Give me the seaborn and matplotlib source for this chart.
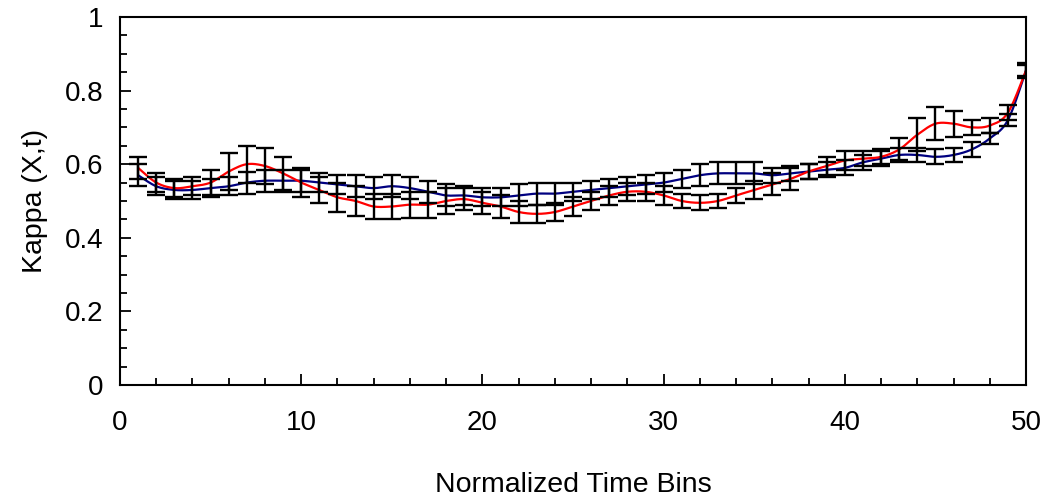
import numpy as np
import pandas as pd
import matplotlib
matplotlib.use('Agg')
import matplotlib.pyplot as plt
from matplotlib.ticker import MultipleLocator, FuncFormatter
import seaborn as sns

# time bins and the two kappa series
bins = list(range(1, 51))

kappa_red = [0.59, 0.55, 0.535, 0.54, 0.55, 0.58, 0.60, 0.595, 0.575, 0.55,
             0.53, 0.51, 0.50, 0.485, 0.485, 0.49, 0.49, 0.50, 0.505, 0.495,
             0.485, 0.47, 0.465, 0.47, 0.485, 0.50, 0.515, 0.525, 0.525, 0.515,
             0.50, 0.495, 0.50, 0.515, 0.53, 0.545, 0.56, 0.58, 0.595, 0.61,
             0.615, 0.62, 0.64, 0.68, 0.71, 0.71, 0.70, 0.705, 0.74, 0.855]

kappa_blue = [0.57, 0.54, 0.53, 0.53, 0.535, 0.54, 0.55, 0.555, 0.555, 0.555,
              0.55, 0.545, 0.54, 0.535, 0.54, 0.535, 0.525, 0.515, 0.515, 0.51,
              0.51, 0.515, 0.52, 0.52, 0.525, 0.53, 0.535, 0.54, 0.545, 0.55,
              0.56, 0.57, 0.575, 0.575, 0.575, 0.57, 0.575, 0.58, 0.585, 0.59,
              0.605, 0.615, 0.625, 0.625, 0.62, 0.625, 0.64, 0.67, 0.72, 0.855]

err_red = [0.03, 0.025, 0.025, 0.025, 0.035, 0.05, 0.05, 0.05, 0.045, 0.04,
           0.035, 0.04, 0.04, 0.035, 0.035, 0.035, 0.035, 0.035, 0.03, 0.03,
           0.03, 0.03, 0.025, 0.025, 0.025, 0.025, 0.025, 0.025, 0.025, 0.025,
           0.02, 0.02, 0.02, 0.02, 0.025, 0.03, 0.03, 0.02, 0.025, 0.025,
           0.02, 0.02, 0.03, 0.045, 0.045, 0.035, 0.02, 0.02, 0.02, 0.02]

err_blue = [0.03, 0.025, 0.025, 0.025, 0.025, 0.025, 0.03, 0.03, 0.03, 0.03,
            0.025, 0.025, 0.03, 0.03, 0.03, 0.03, 0.03, 0.03, 0.025, 0.025,
            0.025, 0.03, 0.03, 0.03, 0.025, 0.025, 0.025, 0.025, 0.025, 0.025,
            0.025, 0.03, 0.03, 0.03, 0.03, 0.02, 0.02, 0.02, 0.02, 0.02,
            0.02, 0.02, 0.02, 0.02, 0.02, 0.02, 0.02, 0.015, 0.015, 0.015]


def smooth(x, y, n=20):
    # excel-like smoothed line (bezier through the points)
    x = np.asarray(x, float)
    y = np.asarray(y, float)
    px = np.concatenate([[x[0]], x, [x[-1]]])
    py = np.concatenate([[y[0]], y, [y[-1]]])
    t = np.linspace(0, 1, n, endpoint=False)
    xs, ys = [], []
    for i in range(1, len(px) - 2):
        p0 = np.array([px[i], py[i]])
        p3 = np.array([px[i + 1], py[i + 1]])
        p1 = p0 + (np.array([px[i + 1], py[i + 1]]) - np.array([px[i - 1], py[i - 1]])) / 6
        p2 = p3 - (np.array([px[i + 2], py[i + 2]]) - np.array([px[i], py[i]])) / 6
        b = ((1 - t) ** 3)[:, None] * p0 + (3 * (1 - t) ** 2 * t)[:, None] * p1 \
            + (3 * (1 - t) * t ** 2)[:, None] * p2 + (t ** 3)[:, None] * p3
        xs.extend(b[:, 0])
        ys.extend(b[:, 1])
    xs.append(x[-1])
    ys.append(y[-1])
    return xs, ys


sns.set_style('ticks')
plt.rcParams['font.family'] = ['Liberation Sans', 'DejaVu Sans']
plt.rcParams['text.color'] = 'black'
plt.rcParams['axes.labelcolor'] = 'black'
plt.rcParams['xtick.color'] = 'black'
plt.rcParams['ytick.color'] = 'black'

fig = plt.figure(figsize=(10.47, 4.99), dpi=100)
ax = fig.add_axes([0.1146, 0.2285, 0.8654, 0.7375])

bx, by = smooth(bins, kappa_blue)
rx, ry = smooth(bins, kappa_red)
sns.lineplot(x=bx, y=by, ax=ax, color='#000080', linewidth=1.6, sort=False, zorder=2)
sns.lineplot(x=rx, y=ry, ax=ax, color='#ff0000', linewidth=1.6, sort=False, zorder=2)

ax.errorbar(bins, kappa_blue, yerr=err_blue, fmt='none', ecolor='black',
            elinewidth=1.7, capsize=6.5, capthick=1.7, zorder=3)
ax.errorbar(bins, kappa_red, yerr=err_red, fmt='none', ecolor='black',
            elinewidth=1.7, capsize=6.5, capthick=1.7, zorder=3)

ax.set_xlim(0, 50)
ax.set_ylim(0, 1)
ax.xaxis.set_major_locator(MultipleLocator(10))
ax.xaxis.set_minor_locator(MultipleLocator(2))
ax.yaxis.set_major_locator(MultipleLocator(0.2))
ax.yaxis.set_minor_locator(MultipleLocator(0.05))
ax.yaxis.set_major_formatter(FuncFormatter(lambda v, p: '%g' % round(v, 2)))

ax.tick_params(which='both', direction='in', labelsize=20, width=1.3)
ax.tick_params(which='major', length=8)
ax.tick_params(which='minor', length=5)
ax.tick_params(axis='x', pad=18)
ax.tick_params(axis='y', pad=12)
for s in ax.spines.values():
    s.set_linewidth(1.5)
    s.set_color('black')

ax.set_xlabel('Normalized Time Bins', fontsize=20.5, labelpad=26)
ax.set_ylabel('Kappa (X,t)', fontsize=20.5, labelpad=12)

fig.savefig('out.png', dpi=100)
